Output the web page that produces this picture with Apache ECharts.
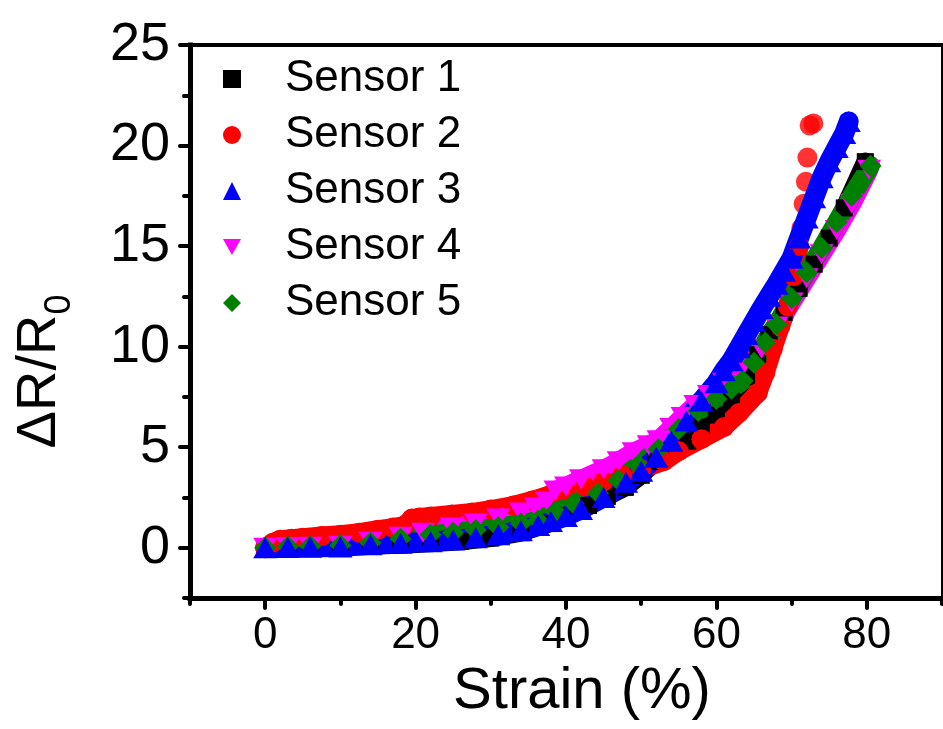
<!DOCTYPE html>
<html>
<head>
<meta charset="utf-8">
<title>Strain sensors</title>
<script src="https://cdn.jsdelivr.net/npm/echarts@6.0.0/dist/echarts.min.js"></script>
<style>
  html, body { margin: 0; padding: 0; background: #fff; }
  #chart { width: 943px; height: 729px; }
</style>
</head>
<body>
<div id="chart"></div>
<script>
// values: strain (%) -> ΔR/R0
const s1Strain = [0, 3, 6, 10, 14, 18, 22, 26, 30, 34, 37.7, 40, 43, 45.5, 47.9, 50, 51.9, 54, 56.2, 58, 60, 62, 64, 65.5, 67, 69, 71, 73, 75, 77, 79.8];
const s1Resp = [0, 0.02, 0.03, 0.05, 0.1, 0.15, 0.22, 0.32, 0.48, 0.75, 1.2, 1.6, 2.1, 2.55, 3.0, 3.6, 4.3, 4.8, 5.3, 6.0, 6.6, 7.3, 8.5, 9.6, 10.6, 11.7, 12.9, 14.1, 15.4, 16.9, 19.2];

const s2Strain = [0, 1, 2, 3.5, 5, 7.5, 10, 12.5, 15, 17, 18.5, 19.5, 20.5, 22, 24.8, 27.5, 30, 33, 35.5, 38, 40, 42.5, 45, 47.5, 50, 53, 55, 58, 61, 63, 65.5, 66.5, 67.5, 68.5, 69.5, 70.3, 71];
const s2Resp = [0, 0.25, 0.4, 0.45, 0.5, 0.58, 0.65, 0.75, 0.9, 1.0, 1.1, 1.45, 1.5, 1.55, 1.65, 1.75, 1.9, 2.1, 2.35, 2.65, 2.85, 3.05, 3.3, 3.6, 3.9, 4.3, 4.8, 5.4, 6.0, 6.7, 7.7, 8.7, 9.9, 11.0, 12.0, 13.5, 15.0];
// last few sensor 2 points stand apart near failure
const s2TailStrain = [71.3, 71.6, 71.9, 72.1, 72.4, 72.9];
const s2TailResp = [15.9, 17.1, 18.2, 19.4, 21.0, 21.1];

const s3Strain = [0, 3, 6, 10, 14, 18, 22, 25, 28, 31, 34, 36.3, 38, 40, 42, 45, 48, 50, 52, 54, 56, 58, 60, 61, 62, 63, 64, 65, 66, 67, 68, 69, 70, 71, 72, 73, 74, 75, 76, 77, 77.6];
const s3Resp = [0, 0.01, 0.02, 0.04, 0.15, 0.22, 0.3, 0.38, 0.5, 0.65, 0.85, 1.1, 1.3, 1.55, 1.9, 2.5, 3.25, 3.8, 4.5, 5.3, 6.3, 7.3, 8.2, 8.8, 9.3, 9.95, 10.6, 11.25, 11.9, 12.5, 13.1, 13.75, 14.4, 15.4, 16.4, 17.4, 18.4, 19.2, 19.9, 20.6, 21.2];

const s4Strain = [0, 3, 6, 10, 14, 18, 21, 24.8, 28, 31, 34, 36, 37.5, 38.6, 40, 42, 45, 47, 49, 51, 52.3, 54, 55.5, 57.2, 59, 61, 63, 66, 68, 70, 72, 74, 76, 78, 80.3];
const s4Resp = [0, 0.03, 0.05, 0.1, 0.3, 0.55, 0.75, 1.0, 1.2, 1.45, 1.75, 2.0, 2.3, 2.85, 3.05, 3.4, 3.9, 4.3, 4.75, 5.1, 5.35, 5.95, 6.5, 7.1, 7.6, 8.2, 8.7, 9.9, 11.0, 12.2, 13.4, 14.6, 15.8, 17.1, 18.8];

const s5Strain = [0, 3, 6, 10, 14, 18, 22, 25, 28, 31, 34, 36.3, 38.6, 41, 44.3, 47, 49.6, 52.3, 55, 57.6, 60, 62, 63.5, 65, 66.5, 68, 70, 72, 74, 76, 78, 80.5];
const s5Resp = [0, 0.06, 0.08, 0.12, 0.25, 0.45, 0.65, 0.75, 0.88, 1.02, 1.2, 1.35, 1.8, 2.2, 2.7, 3.35, 4.1, 4.9, 5.9, 6.8, 7.4, 7.9, 8.3, 9.2, 10.2, 11.1, 12.4, 13.7, 14.9, 16.2, 17.5, 19.0];

const sensorNames = ['Sensor 1', 'Sensor 2', 'Sensor 3', 'Sensor 4', 'Sensor 5'];
const xMajorTicks = [0, 20, 40, 60, 80];
const xMinorTicks = [-10, 10, 30, 50, 70, 90];
const yMajorTicks = [0, 5, 10, 15, 20, 25];
const yMinorTicks = [-2.5, 2.5, 7.5, 12.5, 17.5, 22.5];

const font = "'Liberation Sans', Arial, sans-serif";
const downTriangle = 'path://M0,0 L10,0 L5,9 Z';

function pairs(xs, ys) {
    return xs.map((x, i) => [x, ys[i]]);
}

// thick line under the markers makes the dense-point band
function sensor(name, xs, ys, color, symbol, size, width) {
    return {
        name: name,
        type: 'line',
        data: pairs(xs, ys),
        symbol: symbol,
        symbolSize: size,
        showAllSymbol: true,
        lineStyle: { color: color, width: width, cap: 'round', join: 'round' },
        itemStyle: { color: color },
        emphasis: { disabled: true }
    };
}

const blackLine = { color: '#000', width: 4, cap: 'round' };

let myChart = echarts.init(document.getElementById('chart'));
let option = {
    animation: false,
    backgroundColor: '#fff',
    grid: { left: 190, right: 1, top: 45, bottom: 131 },
    legend: {
        orient: 'vertical',
        left: 218,
        top: 52,
        itemWidth: 18,
        itemHeight: 18,
        itemGap: 12,
        symbolKeepAspect: true,
        textStyle: { fontSize: 44, fontFamily: font, color: '#000', lineHeight: 44, padding: [0, 0, 0, 39] },
        data: [
            { name: sensorNames[0], icon: 'rect' },
            { name: sensorNames[1], icon: 'circle' },
            { name: sensorNames[2], icon: 'triangle' },
            { name: sensorNames[3], icon: downTriangle },
            { name: sensorNames[4], icon: 'diamond' }
        ]
    },
    xAxis: [
        {
            type: 'value', min: -10, max: 90, position: 'bottom',
            axisLine: { onZero: false, lineStyle: { color: '#000', width: 5, cap: 'square' } },
            axisTick: { customValues: xMajorTicks, length: 10, lineStyle: blackLine },
            axisLabel: { customValues: xMajorTicks, fontSize: 44, margin: 16, color: '#000', fontFamily: font },
            splitLine: { show: false },
            name: 'Strain (%)', nameLocation: 'middle', nameGap: 62,
            nameTextStyle: { fontSize: 58, color: '#000', fontFamily: font, padding: [0, 0, 0, 32] }
        },
        {
            type: 'value', min: -10, max: 90, position: 'bottom',
            axisLine: { show: false, onZero: false },
            axisTick: { customValues: xMinorTicks, length: 6, lineStyle: blackLine },
            axisLabel: { show: false },
            splitLine: { show: false }
        },
        {
            type: 'value', min: -10, max: 90, position: 'top',
            axisLine: { onZero: false, lineStyle: { color: '#000', width: 4, cap: 'square' } },
            axisTick: { show: false }, axisLabel: { show: false }, splitLine: { show: false }
        }
    ],
    yAxis: [
        {
            type: 'value', min: -2.5, max: 25, position: 'left',
            axisLine: { onZero: false, lineStyle: { color: '#000', width: 5, cap: 'square' } },
            axisTick: { customValues: yMajorTicks, length: 10, lineStyle: blackLine },
            axisLabel: { customValues: yMajorTicks, fontSize: 54, margin: 20, color: '#000', fontFamily: font },
            splitLine: { show: false },
            name: '{a|ΔR/R}{b|0}', nameLocation: 'middle', nameGap: 112,
            nameTextStyle: {
                color: '#000', fontFamily: font, padding: [0, 100, 0, 0],
                rich: {
                    a: { fontSize: 56, fontFamily: font, color: '#000', lineHeight: 56, verticalAlign: 'top' },
                    b: { fontSize: 36, fontFamily: font, color: '#000', lineHeight: 66, verticalAlign: 'bottom' }
                }
            }
        },
        {
            type: 'value', min: -2.5, max: 25, position: 'left',
            axisLine: { show: false, onZero: false },
            axisTick: { customValues: yMinorTicks, length: 6, lineStyle: blackLine },
            axisLabel: { show: false },
            splitLine: { show: false }
        },
        {
            type: 'value', min: -2.5, max: 25, position: 'right',
            axisLine: { onZero: false, lineStyle: { color: '#000', width: 2 } },
            axisTick: { show: false }, axisLabel: { show: false }, splitLine: { show: false }
        }
    ],
    // drawing order follows the figure: sensor 3 sits on top
    series: [
        sensor(sensorNames[0], s1Strain, s1Resp, '#000000', 'rect', 17, 18),
        sensor(sensorNames[1], s2Strain, s2Resp, '#ff0000', 'circle', 20, 19),
        {
            name: sensorNames[1], type: 'scatter',
            data: pairs(s2TailStrain, s2TailResp),
            symbol: 'circle', symbolSize: 20,
            itemStyle: { color: '#ff0000' },
            emphasis: { disabled: true }
        },
        sensor(sensorNames[3], s4Strain, s4Resp, '#ff00ff', downTriangle, [24, 20], 19),
        sensor(sensorNames[4], s5Strain, s5Resp, '#008000', 'diamond', [22, 22], 19),
        sensor(sensorNames[2], s3Strain, s3Resp, '#0000ff', 'triangle', [24, 21], 20)
    ]
};
myChart.setOption(option);
</script>
</body>
</html>
